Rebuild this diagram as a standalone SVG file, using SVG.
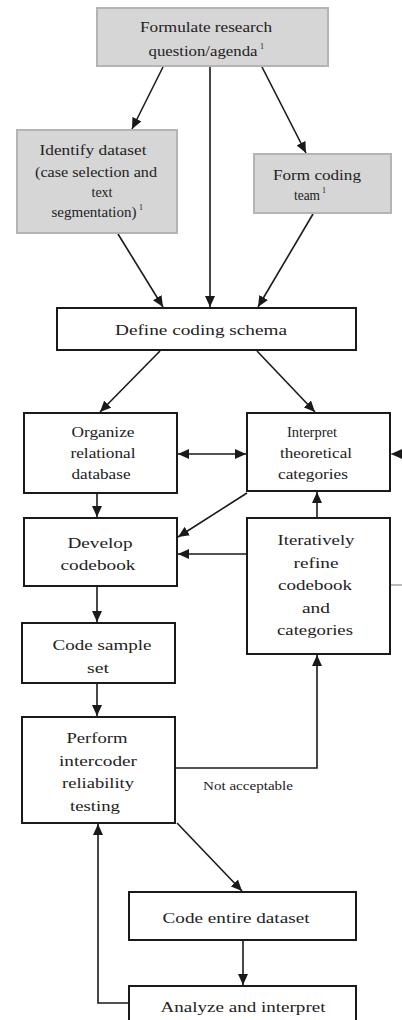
<svg xmlns="http://www.w3.org/2000/svg" width="402" height="1020" viewBox="0 0 402 1020" font-family="'Liberation Serif', 'DejaVu Serif', serif">
<style>
  .g rect{fill:#d6d6d6;stroke:#b4b4b4;stroke-width:2}
  .w rect{fill:#fff;stroke:#1a1a1a;stroke-width:2}
  text{font-family:'Liberation Serif',serif;fill:#222;text-anchor:middle;font-size:15px}
  .s{font-size:8px}
  .c path,.c line{stroke:#1a1a1a;stroke-width:1.6;fill:none}
  .lbl{font-size:12px;text-anchor:start}
</style>
<defs>
  <marker id="a" markerWidth="11" markerHeight="10" refX="11" refY="5" orient="auto-start-reverse" markerUnits="userSpaceOnUse">
    <path d="M0,0 L11,5 L0,10 z" fill="#1a1a1a"/>
  </marker>
</defs>
<rect x="0" y="0" width="402" height="1020" fill="#fff"/>
<g class="c" id="connectors">
  <line x1="163" y1="67" x2="132" y2="129" marker-end="url(#a)"/>
  <line x1="210" y1="67" x2="210" y2="307" marker-end="url(#a)"/>
  <line x1="262" y1="67" x2="306" y2="153" marker-end="url(#a)"/>
  <line x1="118" y1="234" x2="163" y2="307" marker-end="url(#a)"/>
  <line x1="313" y1="214" x2="258" y2="307" marker-end="url(#a)"/>
  <line x1="160" y1="351" x2="100" y2="412" marker-end="url(#a)"/>
  <line x1="257" y1="351" x2="315" y2="412" marker-end="url(#a)"/>
  <line x1="178" y1="454" x2="246" y2="454" marker-start="url(#a)" marker-end="url(#a)"/>
  <path d="M390,585 H412 V454 H391" marker-end="url(#a)" style="stroke:#777;stroke-width:1.2"/>
  <line x1="97" y1="494" x2="97" y2="517" marker-end="url(#a)"/>
  <line x1="247" y1="493" x2="178" y2="537" marker-end="url(#a)"/>
  <line x1="247" y1="554" x2="178" y2="554" marker-end="url(#a)"/>
  <line x1="317" y1="518" x2="317" y2="492" marker-end="url(#a)"/>
  <line x1="97" y1="587" x2="97" y2="622" marker-end="url(#a)"/>
  <line x1="97" y1="684" x2="97" y2="716" marker-end="url(#a)"/>
  <path d="M176,768 H317 V655" marker-end="url(#a)"/>
  <line x1="177" y1="823" x2="242" y2="891" marker-end="url(#a)"/>
  <line x1="243" y1="941" x2="243" y2="985" marker-end="url(#a)"/>
  <path d="M129,1003 H98 V824" marker-end="url(#a)"/>
  <text class="lbl" x="203" y="790" textLength="90" lengthAdjust="spacingAndGlyphs">Not acceptable</text>
</g>
<g id="n-formulate" class="g">
  <rect x="97" y="8" width="231" height="58"/>
  <text x="206" y="32" textLength="132" lengthAdjust="spacingAndGlyphs">Formulate research</text>
  <text x="203" y="56" textLength="109" lengthAdjust="spacingAndGlyphs">question/agenda</text>
  <text class="s" x="262" y="49">1</text>
</g>
<g id="n-identify" class="g">
  <rect x="17" y="130" width="160" height="103"/>
  <text x="93" y="155" textLength="107" lengthAdjust="spacingAndGlyphs">Identify dataset</text>
  <text x="96" y="177" textLength="122" lengthAdjust="spacingAndGlyphs">(case selection and</text>
  <text x="102" y="197" textLength="21" lengthAdjust="spacingAndGlyphs">text</text>
  <text x="94" y="217" textLength="85" lengthAdjust="spacingAndGlyphs">segmentation)</text>
  <text class="s" x="141" y="210">1</text>
</g>
<g id="n-form" class="g">
  <rect x="254" y="154" width="137" height="59"/>
  <text x="317" y="180" textLength="88" lengthAdjust="spacingAndGlyphs">Form coding</text>
  <text x="307" y="200" textLength="26" lengthAdjust="spacingAndGlyphs">team</text>
  <text class="s" x="324" y="193">1</text>
</g>
<g id="n-define" class="w">
  <rect x="57" y="308" width="299" height="42"/>
  <text x="201" y="335" font-size="16" textLength="172" lengthAdjust="spacingAndGlyphs">Define coding schema</text>
</g>
<g id="n-organize" class="w">
  <rect x="24" y="413" width="153" height="80"/>
  <text x="103" y="437" textLength="63" lengthAdjust="spacingAndGlyphs">Organize</text>
  <text x="103" y="458" textLength="65" lengthAdjust="spacingAndGlyphs">relational</text>
  <text x="101" y="479" textLength="59" lengthAdjust="spacingAndGlyphs">database</text>
</g>
<g id="n-interpret" class="w">
  <rect x="247" y="413" width="143" height="78"/>
  <text x="312" y="437" textLength="50" lengthAdjust="spacingAndGlyphs">Interpret</text>
  <text x="316" y="458" textLength="72" lengthAdjust="spacingAndGlyphs">theoretical</text>
  <text x="313" y="479" textLength="70" lengthAdjust="spacingAndGlyphs">categories</text>
</g>
<g id="n-develop" class="w">
  <rect x="24" y="518" width="153" height="68"/>
  <text x="100" y="548" textLength="65" lengthAdjust="spacingAndGlyphs">Develop</text>
  <text x="98" y="570" textLength="75" lengthAdjust="spacingAndGlyphs">codebook</text>
</g>
<g id="n-iterative" class="w">
  <rect x="247" y="518" width="143" height="136"/>
  <text x="316" y="545" textLength="77" lengthAdjust="spacingAndGlyphs">Iteratively</text>
  <text x="316" y="568" textLength="45" lengthAdjust="spacingAndGlyphs">refine</text>
  <text x="315" y="590" textLength="74" lengthAdjust="spacingAndGlyphs">codebook</text>
  <text x="316" y="613" textLength="28" lengthAdjust="spacingAndGlyphs">and</text>
  <text x="315" y="635" textLength="76" lengthAdjust="spacingAndGlyphs">categories</text>
</g>
<g id="n-sample" class="w">
  <rect x="22" y="623" width="153" height="60"/>
  <text x="102" y="650" textLength="99" lengthAdjust="spacingAndGlyphs">Code sample</text>
  <text x="98" y="673" textLength="22" lengthAdjust="spacingAndGlyphs">set</text>
</g>
<g id="n-perform" class="w">
  <rect x="22" y="717" width="153" height="106"/>
  <text x="97" y="743" textLength="61" lengthAdjust="spacingAndGlyphs">Perform</text>
  <text x="98" y="766" textLength="78" lengthAdjust="spacingAndGlyphs">intercoder</text>
  <text x="98" y="788" textLength="72" lengthAdjust="spacingAndGlyphs">reliability</text>
  <text x="95" y="811" textLength="50" lengthAdjust="spacingAndGlyphs">testing</text>
</g>
<g id="n-entire" class="w">
  <rect x="129" y="892" width="227" height="48"/>
  <text x="236" y="923" textLength="147" lengthAdjust="spacingAndGlyphs">Code entire dataset</text>
</g>
<g id="n-analyze" class="w">
  <rect x="129" y="986" width="227" height="44"/>
  <text x="243" y="1012" textLength="165" lengthAdjust="spacingAndGlyphs">Analyze and interpret</text>
</g>
</svg>
